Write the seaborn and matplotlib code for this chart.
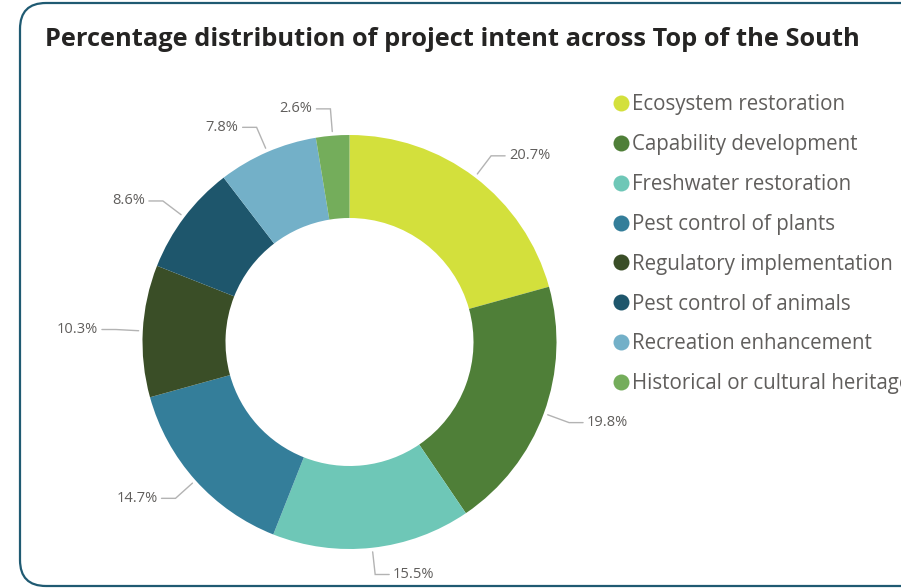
import matplotlib
matplotlib.use("Agg")
import matplotlib.pyplot as plt
import seaborn as sns
import numpy as np
from matplotlib.patches import FancyBboxPatch
from matplotlib.lines import Line2D

sns.set_style("white")
plt.rcParams['font.family'] = ['Open Sans', 'DejaVu Sans']

# data
categories = [
    "Ecosystem restoration",
    "Capability development",
    "Freshwater restoration",
    "Pest control of plants",
    "Regulatory implementation",
    "Pest control of animals",
    "Recreation enhancement",
    "Historical or cultural heritage",
]
shares = [20.7, 19.8, 15.5, 14.7, 10.3, 8.6, 7.8, 2.6]
colors = ["#D3E03C", "#4F7F38", "#6EC7B7", "#347E9A",
          "#3A4E27", "#1E566C", "#73B0C8", "#74AD5B"]

title = "Percentage distribution of project intent across Top of the South"

W, H = 901, 588
fig = plt.figure(figsize=(W / 100, H / 100), dpi=100)
ax = fig.add_axes([0, 0, 1, 1])

# pixel-like data space (y up)
cx, cy = 349.5, H - 342
R = 207
hole = 124

palette = sns.color_palette(colors)
wedges, _ = ax.pie(shares, colors=palette, startangle=90, counterclock=False,
                   radius=R, center=(cx, cy),
                   wedgeprops=dict(width=R - hole, linewidth=0))
ax.set_xlim(0, W)
ax.set_ylim(0, H)
ax.set_aspect('auto')
ax.axis('off')

# data labels with leader lines
lab_col = "#605E5C"
line_col = "#B3B3B3"
for w, v in zip(wedges, shares):
    mid = np.deg2rad((w.theta1 + w.theta2) / 2)
    c, s = np.cos(mid), np.sin(mid)
    p0 = (cx + 1.02 * R * c, cy + 1.02 * R * s)
    p1 = (cx + 1.13 * R * c, cy + 1.13 * R * s)
    side = 1 if c >= 0 else -1
    p2 = (p1[0] + side * 14, p1[1])
    ax.plot([p0[0], p1[0], p2[0]], [p0[1], p1[1], p2[1]],
            color=line_col, lw=1, solid_joinstyle='miter')
    ax.text(p2[0] + side * 4, p2[1], f"{v:.1f}%", color=lab_col,
            fontsize=10.5, ha='left' if side > 0 else 'right', va='center')

# legend (last entry runs off the card edge, as in the original)
handles = [Line2D([], [], marker='o', linestyle='none', markersize=11.5,
                  markerfacecolor=col, markeredgewidth=0) for col in palette]
leg = ax.legend(handles, categories, loc='upper left',
                bbox_to_anchor=(615, H - 94), bbox_transform=ax.transData,
                frameon=False, fontsize=14.8, handlelength=0.6,
                handletextpad=0.25, labelspacing=0.92, borderpad=0,
                borderaxespad=0)
for t in leg.get_texts():
    t.set_color(lab_col)

# title
ax.text(45, H - 39, title, fontsize=18.3, fontweight='bold', color="#252423",
        ha='left', va='center')

# card border
border = FancyBboxPatch((20, 2), 920, 583,
                        boxstyle="round,pad=0,rounding_size=26",
                        fill=False, edgecolor="#1F5A72", linewidth=1.6,
                        clip_on=True)
ax.add_patch(border)

fig.savefig("out.png", dpi=100)
